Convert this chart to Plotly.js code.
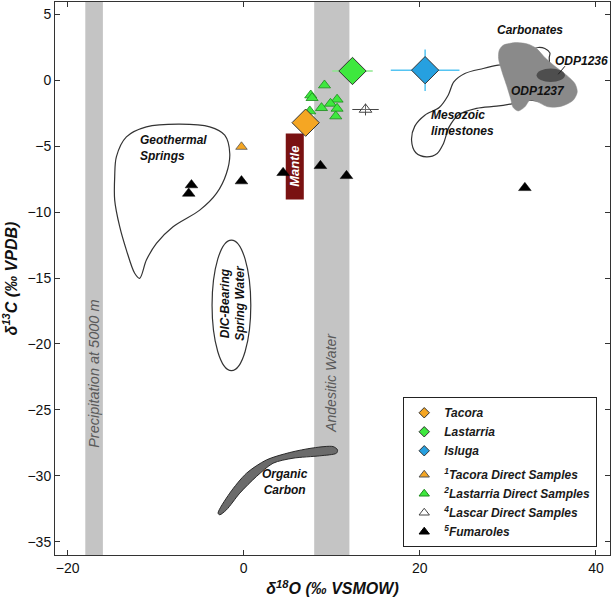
<!DOCTYPE html>
<html>
<head>
<meta charset="utf-8">
<script src="https://cdn.plot.ly/plotly-3.0.1.min.js"></script>
<style>html,body{margin:0;padding:0;background:#fff;}#chart{width:612px;height:602px;}</style>
</head>
<body>
<div id="chart"></div>
<script>
// ---------- data ----------
const tacoraX = [7.03], tacoraY = [-3.22];
const lastarriaX = [12.35], lastarriaY = [0.7], lastarriaErrX = [2.3];
const islugaX = [20.6], islugaY = [0.76], islugaErrX = [3.9], islugaErrY = [1.57];
const tacoraDirectX = [-0.26], tacoraDirectY = [-5.05];
const lastarriaDirectX = [9.17, 7.61, 7.76, 10.6, 9.85, 8.83, 10.6, 7.5, 10.45];
const lastarriaDirectY = [-0.38, -1.14, -1.34, -1.46, -1.77, -2.1, -2.15, -2.35, -2.73];
const lascarX = [13.83], lascarY = [-2.22], lascarErrX = [1.5], lascarErrY = [0.45];
const fumarolesX = [-5.94, -6.25, -0.26, 4.47, 8.71, 11.67, 31.93];
const fumarolesY = [-7.95, -8.59, -7.65, -7.02, -6.49, -7.25, -8.16];

const legendNames = ['Tacora', 'Lastarria', 'Isluga',
  '<sup>1</sup>Tacora Direct Samples', '<sup>2</sup>Lastarria Direct Samples',
  '<sup>4</sup>Lascar Direct Samples', '<sup>5</sup>Fumaroles'];

// field outlines
const geoX = [-14.66, -14.47, -13.33, -11.06, -7.27, -3.86, -2.16, -1.59, -1.97, -3.1, -5.0, -8.03, -9.92, -11.06, -11.82, -12.39, -13.33, -14.09, -14.66, -14.66];
const geoY = [-7.33, -5.81, -4.3, -3.54, -3.33, -3.54, -4.17, -5.55, -7.07, -8.58, -9.85, -11.11, -12.37, -13.64, -15.02, -14.64, -12.88, -11.11, -9.09, -7.33];
const organicX = [-2.92, -1.59, 0.31, 2.58, 5.23, 7.88, 10.15, 10.65, 10.53, 8.64, 5.6, 3.33, 1.44, -0.45, -1.97, -2.73, -2.92];
const organicY = [-32.83, -31.31, -29.8, -28.79, -28.23, -27.88, -27.78, -28.03, -28.28, -28.48, -28.66, -29.04, -30.05, -31.31, -32.58, -32.95, -32.83];
const carbX = [29.02, 29.47, 30.98, 32.31, 33.26, 34.2, 35.34, 36.67, 37.61, 37.88, 37.42, 36.1, 34.58, 33.33, 32.5, 31.93, 31.17, 30.6, 30.31, 29.85, 29.28, 28.94, 29.02];
const carbY = [2.27, 2.65, 2.85, 2.73, 2.4, 1.72, 1.06, 0.38, -0.25, -0.89, -1.52, -1.97, -2.02, -1.64, -1.52, -2.02, -2.33, -2.07, -1.39, -0.38, 0.76, 1.64, 2.27];
const mesoX = [30.23, 28.9, 27.2, 25.11, 23.86, 23.22, 22.2, 20.57, 19.43, 19.06, 19.55, 20.76, 21.97, 22.65, 23.33, 24.36, 26.44, 28.72, 30.6, 32.5, 33.83, 34.77, 34.7, 34.77, 34.2, 33.45, 32.69, 30.23];
const mesoY = [1.26, 1.14, 0.89, 0.51, -0.13, -1.14, -2.07, -2.65, -3.48, -4.55, -5.5, -5.81, -5.55, -4.85, -3.54, -2.65, -2.14, -1.97, -1.77, -1.52, -1.52, -0.25, 1.72, 2.07, 2.4, 2.48, 2.32, 1.26];

// reference regions
const precipBand = [-18, -16];
const andesiticBand = [8, 12];
const mantleX = [4.77, 6.82], mantleY = [-9.04, -4.04];
const dicX = [-3.6, 0.8], dicY = [-22.02, -12.12];
const odpX = [33.26, 36.48], odpY = [-0.13, 0.89];
const odpLeaderX = [35.72, 36.48], odpLeaderY = [0.45, 1.06];

// labels
const boldLabels = ['Carbonates', 'ODP1236', 'ODP1237', 'Organic<br>Carbon'];
const boldLabelX = [32.5, 38.35, 33.47, 4.66];
const boldLabelY = [3.84, 1.44, -0.81, -30.5];
const leftLabels = ['Mesozoic<br>limestones', 'Geothermal<br>Springs'];
const leftLabelX = [21.0, -12.05];
const leftLabelY = [-3.22, -5.15];
const dicLabel = 'DIC-Bearing<br>Spring Water', dicLabelX = -1.25, dicLabelY = -16.9;
const mantleLabel = 'Mantle', mantleLabelX = 5.8, mantleLabelY = -6.5;
const bandLabels = ['Precipitation at 5000 m', 'Andesitic Water'];
const bandLabelX = [-16.95, 9.97];
const bandLabelY = [-22.3, -22.98];

const xTicks = [-20, 0, 20, 40];
const yTicks = [-35, -30, -25, -20, -15, -10, -5, 0, 5];

// ---------- styling ----------
const FAM = 'Liberation Sans, Arial, sans-serif';
const bi = (size, color) => ({family: FAM, size: size, color: color || '#111', weight: 'bold', style: 'italic'});
const C_OR = '#f5a623', C_GR = '#3ee83e', C_BL = '#26a0e0';
const noHover = {hoverinfo: 'skip', showlegend: false};

const traces = [
  Object.assign({x: geoX, y: geoY, mode: 'lines', line: {color: '#333', width: 1.2, shape: 'spline', smoothing: 0.9}}, noHover),
  Object.assign({x: organicX, y: organicY, mode: 'lines', fill: 'toself', fillcolor: '#6b6b6b', line: {color: '#2a2a2a', width: 1, shape: 'spline', smoothing: 0.8}}, noHover),
  Object.assign({x: mesoX, y: mesoY, mode: 'lines', line: {color: '#333', width: 1.2, shape: 'spline', smoothing: 0.9}}, noHover),
  Object.assign({x: carbX, y: carbY, mode: 'lines', fill: 'toself', fillcolor: '#8a8a8a', line: {color: '#8a8a8a', width: 0.5, shape: 'spline', smoothing: 0.8}}, noHover),
  // data
  {x: fumarolesX, y: fumarolesY, mode: 'markers', showlegend: false, name: legendNames[6],
   marker: {symbol: 'triangle-up', size: 11, color: '#000', line: {color: '#000', width: 0.5}}},
  {x: tacoraDirectX, y: tacoraDirectY, mode: 'markers', showlegend: false, name: legendNames[3],
   marker: {symbol: 'triangle-up', size: 10, color: C_OR, line: {color: '#555', width: 0.8}}},
  {x: lastarriaDirectX, y: lastarriaDirectY, mode: 'markers', showlegend: false, name: legendNames[4],
   marker: {symbol: 'triangle-up', size: 10.5, color: C_GR, line: {color: '#1c8a1c', width: 0.8}}},
  {x: lascarX, y: lascarY, mode: 'markers', showlegend: false, name: legendNames[5],
   error_x: {type: 'data', array: lascarErrX, color: '#444', thickness: 1, width: 0},
   error_y: {type: 'data', array: lascarErrY, color: '#444', thickness: 1, width: 0},
   marker: {symbol: 'triangle-up', size: 11, color: 'rgba(255,255,255,0.2)', line: {color: '#444', width: 1}}},
  {x: tacoraX, y: tacoraY, mode: 'markers', showlegend: false, name: legendNames[0],
   marker: {symbol: 'diamond', size: 21, color: C_OR, line: {color: '#333', width: 1}}},
  {x: lastarriaX, y: lastarriaY, mode: 'markers', showlegend: false, name: legendNames[1],
   error_x: {type: 'data', array: lastarriaErrX, color: '#8fe88f', thickness: 1.5, width: 0},
   marker: {symbol: 'diamond', size: 21, color: C_GR, line: {color: '#333', width: 1}}},
  {x: islugaX, y: islugaY, mode: 'markers', showlegend: false, name: legendNames[2],
   error_x: {type: 'data', array: islugaErrX, color: '#55c4f2', thickness: 1.5, width: 0},
   error_y: {type: 'data', array: islugaErrY, color: '#55c4f2', thickness: 1.5, width: 0},
   marker: {symbol: 'diamond', size: 21, color: C_BL, line: {color: '#333', width: 1}}}
];

// legend entries (small symbols, no data of their own)
const legSym = ['diamond', 'diamond', 'diamond', 'triangle-up', 'triangle-up', 'triangle-up', 'triangle-up'];
const legCol = [C_OR, C_GR, C_BL, C_OR, C_GR, '#fff', '#000'];
const legLine = ['#333', '#333', '#333', '#555', '#1c8a1c', '#444', '#000'];
const legSize = [8, 8, 8, 9, 9, 9, 9];
for (let i = 0; i < legendNames.length; i++) {
  traces.push({x: [null], y: [null], mode: 'markers', name: legendNames[i], showlegend: true,
    legendgroup: i < 3 ? 'volc' : 'direct', hoverinfo: 'skip',
    marker: {symbol: legSym[i], size: legSize[i], color: legCol[i], line: {color: legLine[i], width: 1}}});
}

const shapes = [
  {type: 'rect', xref: 'x', yref: 'paper', x0: precipBand[0], x1: precipBand[1], y0: 0, y1: 1, fillcolor: '#c4c4c4', line: {width: 0}, layer: 'below'},
  {type: 'rect', xref: 'x', yref: 'paper', x0: andesiticBand[0], x1: andesiticBand[1], y0: 0, y1: 1, fillcolor: '#c4c4c4', line: {width: 0}, layer: 'below'},
  {type: 'rect', xref: 'x', yref: 'y', x0: mantleX[0], x1: mantleX[1], y0: mantleY[0], y1: mantleY[1], fillcolor: '#7a1212', line: {width: 0}, layer: 'below'},
  {type: 'circle', xref: 'x', yref: 'y', x0: dicX[0], x1: dicX[1], y0: dicY[0], y1: dicY[1], fillcolor: 'rgba(0,0,0,0)', line: {color: '#333', width: 1.2}, layer: 'below'},
  {type: 'circle', xref: 'x', yref: 'y', x0: odpX[0], x1: odpX[1], y0: odpY[0], y1: odpY[1], fillcolor: '#4e4e4e', line: {width: 0}, layer: 'above'},
  {type: 'line', xref: 'x', yref: 'y', x0: odpLeaderX[0], x1: odpLeaderX[1], y0: odpLeaderY[0], y1: odpLeaderY[1], line: {color: '#222', width: 1}, layer: 'above'}
];

const annotations = [];
boldLabels.forEach((t, i) => annotations.push({text: t, x: boldLabelX[i], y: boldLabelY[i], xref: 'x', yref: 'y', showarrow: false, font: bi(12), align: 'center'}));
leftLabels.forEach((t, i) => annotations.push({text: t, x: leftLabelX[i], y: leftLabelY[i], xref: 'x', yref: 'y', showarrow: false, font: bi(12), align: 'left', xanchor: 'left'}));
annotations.push({text: dicLabel, x: dicLabelX, y: dicLabelY, xref: 'x', yref: 'y', showarrow: false, font: bi(12), textangle: -90, align: 'center'});
annotations.push({text: mantleLabel, x: mantleLabelX, y: mantleLabelY, xref: 'x', yref: 'y', showarrow: false, font: bi(13, '#fff'), textangle: -90});
bandLabels.forEach((t, i) => annotations.push({text: t, x: bandLabelX[i], y: bandLabelY[i], xref: 'x', yref: 'y', showarrow: false,
  font: {family: FAM, size: i === 0 ? 14.5 : 14, color: '#5a5a5a', style: 'italic'}, textangle: -90}));

const axisCommon = {showgrid: false, zeroline: false, showline: true, linecolor: '#333', linewidth: 1,
  mirror: 'ticks', ticks: 'inside', ticklen: 5, tickcolor: '#333', tickwidth: 1,
  tickfont: {family: FAM, size: 14, color: '#111'}};

const layout = {
  width: 612, height: 602,
  margin: {l: 55, r: 2, t: 2, b: 47},
  paper_bgcolor: '#fff', plot_bgcolor: '#fff',
  showlegend: true,
  xaxis: Object.assign({}, axisCommon, {range: [-21.44, 41.6], tickvals: xTicks,
    title: {text: 'δ<sup>18</sup>O (‰ VSMOW)', font: bi(16), standoff: 8}}),
  yaxis: Object.assign({}, axisCommon, {range: [-36, 5.93], tickvals: yTicks,
    title: {text: 'δ<sup>13</sup>C (‰ VPDB)', font: bi(16), standoff: 10}}),
  legend: {x: 0.977, y: 0.014, xanchor: 'right', yanchor: 'bottom', bgcolor: '#fff',
    bordercolor: '#222', borderwidth: 1, font: bi(12, '#1a1a1a'), tracegroupgap: 5,
    traceorder: 'grouped', itemclick: false, itemdoubleclick: false},
  shapes: shapes,
  annotations: annotations
};

Plotly.newPlot('chart', traces, layout, {displayModeBar: false, staticPlot: true});
</script>
</body>
</html>
